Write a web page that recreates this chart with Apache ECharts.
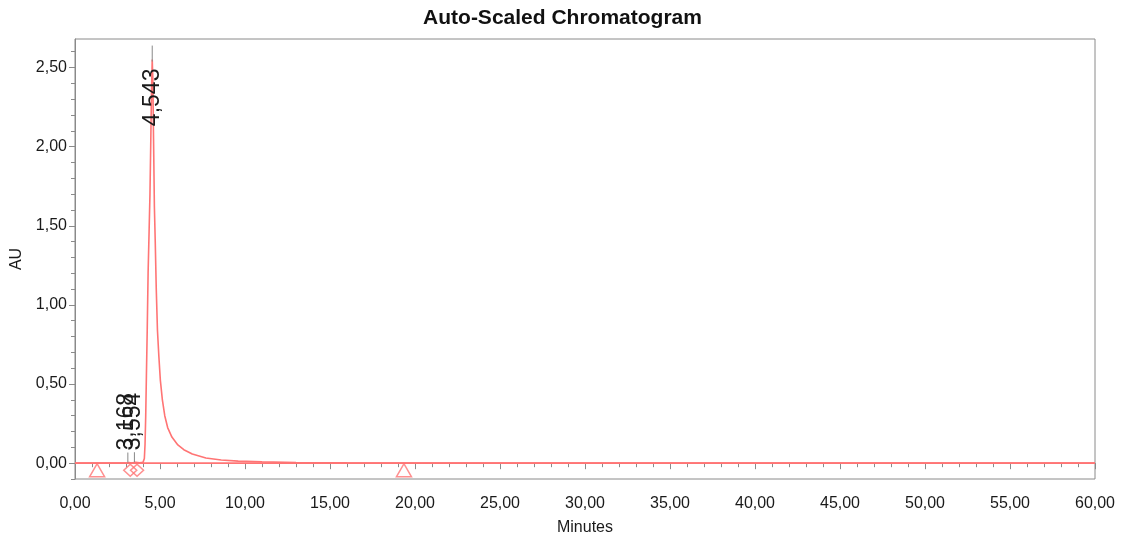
<!DOCTYPE html>
<html>
<head>
<meta charset="utf-8">
<script src="https://cdn.jsdelivr.net/npm/echarts@6/dist/echarts.min.js"></script>
<style>
html,body{margin:0;padding:0;background:#fff;}
#chart{width:1125px;height:539px;}
</style>
</head>
<body>
<div id="chart"></div>
<script>
// ---- data ----
const timeMin = [0, 1.0, 2.0, 3.0, 3.168, 3.35, 3.554, 3.8, 4.0, 4.08, 4.12, 4.16, 4.2, 4.25, 4.3, 4.36, 4.41, 4.46, 4.5, 4.543,
  4.58, 4.62, 4.67, 4.72, 4.78, 4.85, 4.93, 5.02, 5.14, 5.28, 5.45, 5.7, 6.05, 6.4, 6.9, 7.7, 8.6, 9.6, 11, 13, 16, 20, 25, 40, 60];
const absorbanceAU = [0, 0, 0, 0, 0.004, 0.001, 0.006, 0.002, 0.005, 0.03, 0.12, 0.3, 0.55, 0.85, 1.2, 1.47, 1.7, 2.05, 2.35, 2.55,
  2.42, 2.05, 1.62, 1.4, 1.1, 0.84, 0.68, 0.525, 0.4, 0.3, 0.225, 0.165, 0.115, 0.085, 0.058, 0.033, 0.02, 0.013, 0.008, 0.004, 0.002, 0.001, 0, 0, 0];

const peakTimes = [3.168, 3.554, 4.543];
const peakNames = ['3,168', '3,554', '4,543'];
const peakApexAU = [0.004, 0.006, 2.55];

const triangleTimes = [1.3, 19.35];
const triangleAU = [-0.045, -0.045];
const diamondTimes = [3.25, 3.65];
const diamondAU = [-0.045, -0.045];

const xTickValues = [0, 5, 10, 15, 20, 25, 30, 35, 40, 45, 50, 55, 60];
const yTickValues = [0, 0.5, 1.0, 1.5, 2.0, 2.5];
const yMinorTickValues = [-0.1, 0.1, 0.2, 0.3, 0.4, 0.6, 0.7, 0.8, 0.9, 1.1, 1.2, 1.3, 1.4, 1.6, 1.7, 1.8, 1.9, 2.1, 2.2, 2.3, 2.4, 2.6];

// ---- chart ----
const fmt = v => v.toFixed(2).replace('.', ',');
const AXIS = '#8a8a8a';
const TXT = '#1a1a1a';
const RED = '#ff7474';
const FONT = '"Liberation Sans", Arial, sans-serif';

const tracePts = timeMin.map((t, i) => [t, absorbanceAU[i]]);
const peakPts = peakTimes.map((t, i) => [t, peakApexAU[i], i]);

const chart = echarts.init(document.getElementById('chart'), null, {renderer: 'canvas'});
chart.setOption({
  animation: false,
  backgroundColor: '#fff',
  textStyle: {fontFamily: FONT},
  title: {
    text: 'Auto-Scaled Chromatogram', left: 'center', top: 3,
    textStyle: {fontSize: 21, fontWeight: 'bold', color: '#111', fontFamily: FONT}
  },
  grid: {left: 75, right: 30, top: 39, bottom: 60, show: true, borderColor: AXIS, borderWidth: 1,
         containLabel: false, outerBoundsMode: 'none'},
  xAxis: {
    type: 'value', min: 0, max: 60, interval: 5,
    name: 'Minutes', nameLocation: 'middle', nameGap: 41,
    nameTextStyle: {fontSize: 16, color: TXT, fontFamily: FONT},
    axisLine: {show: true, lineStyle: {color: AXIS, width: 1}},
    axisTick: {show: true, length: 6, inside: false, lineStyle: {color: AXIS}},
    minorTick: {show: true, splitNumber: 5, length: 4, lineStyle: {color: AXIS}},
    axisLabel: {formatter: fmt, fontSize: 16, color: TXT, margin: 17, fontFamily: FONT, showMaxLabel: true, showMinLabel: true},
    splitLine: {show: false}, minorSplitLine: {show: false}
  },
  yAxis: [{
    type: 'value', min: -0.1, max: 2.68,
    name: 'AU', nameLocation: 'middle', nameGap: 50, nameRotate: 90,
    nameTextStyle: {fontSize: 16, color: TXT, fontFamily: FONT},
    axisLine: {show: true, lineStyle: {color: AXIS, width: 1}},
    axisTick: {show: true, length: 6, customValues: yTickValues, lineStyle: {color: AXIS}},
    axisLabel: {customValues: yTickValues, formatter: fmt, fontSize: 16, color: TXT, margin: 8, fontFamily: FONT},
    splitLine: {show: false}
  }, {
    type: 'value', min: -0.1, max: 2.68, position: 'left', offset: 0,
    axisLine: {show: false},
    axisTick: {show: true, length: 4, customValues: yMinorTickValues, lineStyle: {color: AXIS}},
    axisLabel: {show: false},
    splitLine: {show: false}
  }],
  series: [
    {
      name: 'baseline', type: 'line', yAxisIndex: 0, data: [[0, 0], [60, 0]],
      showSymbol: false, silent: true, lineStyle: {color: RED, width: 1.6}, z: 2
    },
    {
      name: 'trace', type: 'line', yAxisIndex: 0, data: tracePts,
      showSymbol: false, silent: true, lineStyle: {color: RED, width: 1.6}, z: 3
    },
    {
      name: 'triangles', type: 'scatter', yAxisIndex: 0,
      data: triangleTimes.map((t, i) => [t, triangleAU[i]]),
      symbol: 'triangle', symbolSize: [15, 13],
      itemStyle: {color: 'rgba(0,0,0,0)', borderColor: RED, borderWidth: 1.5}, z: 4
    },
    {
      name: 'diamonds', type: 'scatter', yAxisIndex: 0,
      data: diamondTimes.map((t, i) => [t, diamondAU[i]]),
      symbol: 'diamond', symbolSize: [13, 12],
      itemStyle: {color: 'rgba(0,0,0,0)', borderColor: RED, borderWidth: 1.5}, z: 4
    },
    {
      name: 'peakLabels', type: 'custom', yAxisIndex: 0, data: peakPts, z: 5,
      renderItem: function (params, api) {
        const p = api.coord([api.value(0), api.value(1)]);
        const idx = api.value(2);
        const big = api.value(1) > 1;
        const children = [];
        const font = '23px ' + FONT;
        if (big) {
          children.push({type: 'line', shape: {x1: p[0], y1: p[1] - 14, x2: p[0], y2: p[1] + 2},
            style: {stroke: '#888', lineWidth: 1}});
          children.push({type: 'text', x: p[0], y: p[1] + 9, rotation: Math.PI / 2,
            style: {text: peakNames[idx], fill: TXT, font: font, align: 'right', verticalAlign: 'middle'}});
        } else {
          children.push({type: 'line', shape: {x1: p[0] - 1, y1: p[1] - 10, x2: p[0] - 1, y2: p[1]},
            style: {stroke: '#888', lineWidth: 1}});
          children.push({type: 'text', x: p[0] - 2, y: p[1] - 12, rotation: Math.PI / 2,
            style: {text: peakNames[idx], fill: TXT, font: font, align: 'left', verticalAlign: 'middle'}});
        }
        return {type: 'group', children: children};
      }
    }
  ]
});
</script>
</body>
</html>
